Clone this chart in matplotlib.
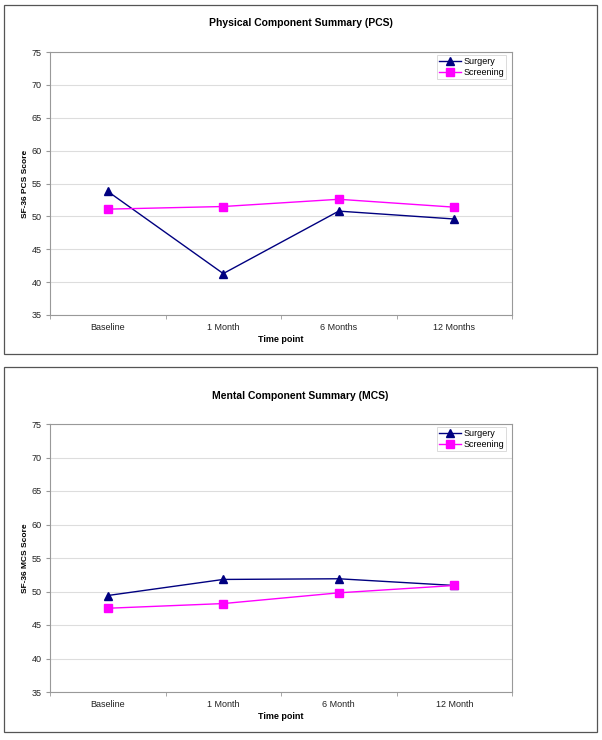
import matplotlib
matplotlib.use("Agg")
import matplotlib.pyplot as plt
from matplotlib.patches import Rectangle

plt.rcParams['font.family'] = ['Liberation Sans', 'DejaVu Sans']

pcs_categories = ["Baseline", "1 Month", "6 Months", "12 Months"]
pcs_surgery = [53.8, 41.3, 50.8, 49.6]
pcs_screening = [51.1, 51.5, 52.6, 51.4]

mcs_categories = ["Baseline", "1 Month", "6 Month", "12 Month"]
mcs_surgery = [49.4, 51.8, 51.9, 50.9]
mcs_screening = [47.5, 48.2, 49.8, 50.9]

y_ticks = [35, 40, 45, 50, 55, 60, 65, 70, 75]

W, H = 602, 740
fig = plt.figure(figsize=(W / 100, H / 100), dpi=100)

def px_axes(x0, y0, x1, y1):
    return fig.add_axes([x0 / W, 1 - y1 / H, (x1 - x0) / W, (y1 - y0) / H])

def panel(box, plot, title_y, title, ylabel, cats, surg, scr):
    bx0, by0, bx1, by1 = box
    fig.add_artist(Rectangle((bx0 / W, 1 - by1 / H), (bx1 - bx0) / W, (by1 - by0) / H,
                             transform=fig.transFigure, fill=False, edgecolor='#555555', lw=0.9))
    ax = px_axes(*plot)
    x = list(range(len(cats)))
    ax.plot(x, surg, color='#000080', marker='^', markersize=5.5, lw=1.0, label='Surgery')
    ax.plot(x, scr, color='#FF00FF', marker='s', markersize=5.5, lw=1.0, label='Screening')
    ax.set_xlim(-0.5, len(cats) - 0.5)
    ax.set_ylim(35, 75)
    ax.set_yticks(y_ticks)
    ax.set_yticklabels([str(t) for t in y_ticks], fontsize=6.5, color='#222222')
    ax.set_xticks(x)
    ax.set_xticklabels(cats, fontsize=6.5, color='#222222')
    ax.tick_params(axis='x', length=0, pad=6)
    ax.set_xticks([i - 0.5 for i in range(len(cats) + 1)], minor=True)
    ax.tick_params(axis='x', which='minor', length=3, color='#999999', direction='out')
    ax.tick_params(axis='y', length=3, color='#999999', pad=3)
    ax.grid(axis='y', color='#dddddd', lw=0.8)
    ax.set_axisbelow(True)
    for s in ax.spines.values():
        s.set_color('#999999')
        s.set_linewidth(0.8)
    ax.set_xlabel('Time point', fontsize=6.5, fontweight='bold', labelpad=2)
    ax.set_ylabel(ylabel, fontsize=6, fontweight='bold', labelpad=2)
    fig.text((bx0 + bx1) / 2 / W, 1 - title_y / H, title,
             ha='center', va='center', fontsize=7.5, fontweight='bold')
    leg = ax.legend(loc='upper right', fontsize=6.5, frameon=True, fancybox=False,
                    borderpad=0.25, handlelength=2.4, handletextpad=0.3, labelspacing=0.15,
                    borderaxespad=0, bbox_to_anchor=(0.988, 0.988))
    leg.get_frame().set_edgecolor('#cccccc')
    leg.get_frame().set_linewidth(0.6)
    return ax

panel((4, 5, 597, 354), (50, 52, 512, 315), 23, 'Physical Component Summary (PCS)',
      'SF-36 PCS Score', pcs_categories, pcs_surgery, pcs_screening)
panel((4, 367, 597, 732), (50, 424, 512, 692), 396, 'Mental Component Summary (MCS)',
      'SF-36 MCS Score', mcs_categories, mcs_surgery, mcs_screening)

fig.savefig('out.png', dpi=100)
